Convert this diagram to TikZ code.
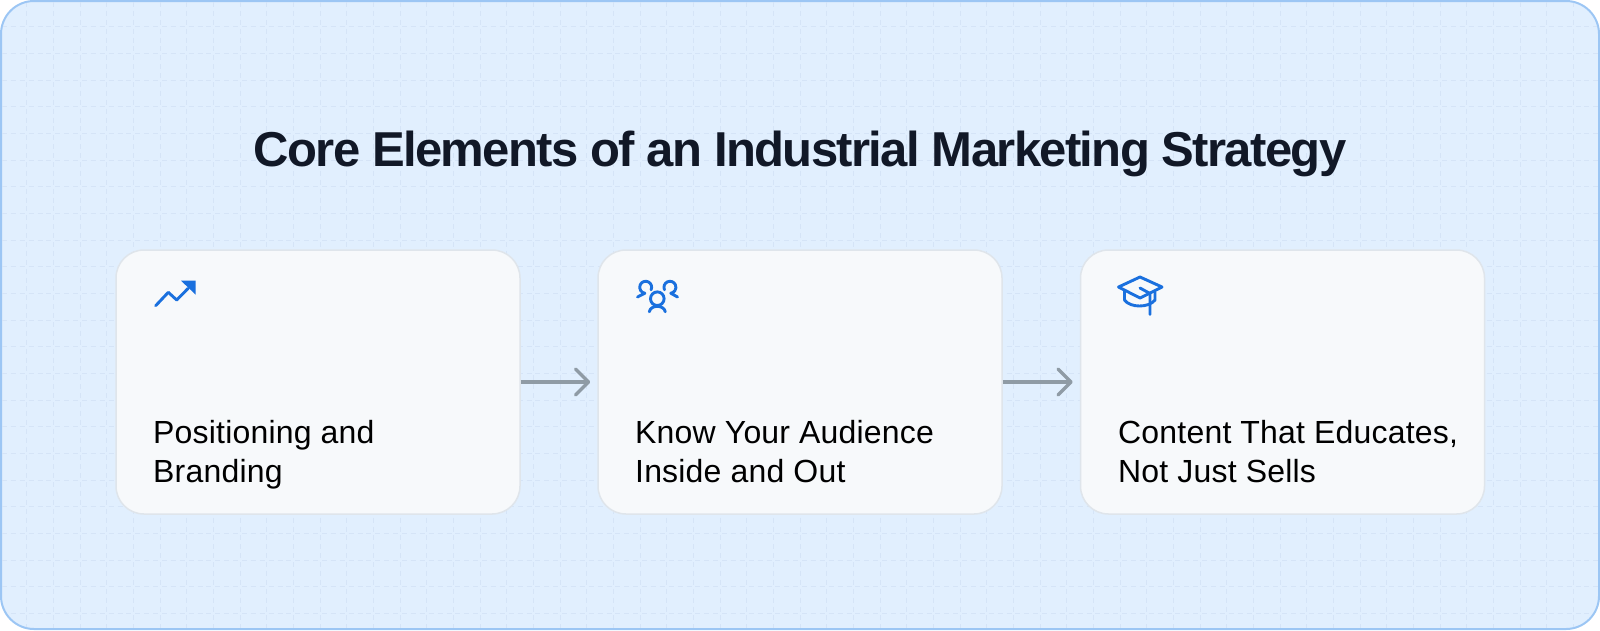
\documentclass[tikz,border=0pt]{standalone}
\usepackage{fontspec}
\setmainfont[LetterSpace=0.6]{Liberation Sans}
\newfontfamily\titlefont[LetterSpace=-3.4]{Liberation Sans Bold}
\usetikzlibrary{arrows.meta}
\definecolor{panelfill}{HTML}{E1EFFE}
\definecolor{paneledge}{HTML}{9CC6F4}
\definecolor{gridline}{HTML}{D5E4F7}
\definecolor{cardfill}{HTML}{F7F9FB}
\definecolor{cardedge}{HTML}{DFE5EB}
\definecolor{iconblue}{HTML}{1A70DE}
\definecolor{flowgray}{HTML}{8F9BA5}
\definecolor{titleink}{HTML}{111827}
\tikzset{
  panel/.style={draw=paneledge,fill=panelfill,line width=2pt,rounded corners=33pt,minimum width=1598pt,minimum height=628pt},
  gridrule/.style={gridline,line width=1pt,dash pattern=on 5pt off 3.89pt},
  card/.style={draw=cardedge,fill=cardfill,line width=1.5pt,rounded corners=28pt,minimum width=404pt,minimum height=264pt},
  label/.style={anchor=base west,align=left,inner sep=0pt,text=black,font=\fontsize{32}{39}\selectfont},
  flow/.style={flowgray,line width=3.4pt,-{Straight Barb[length=13pt,width=26pt,line width=3.4pt,round]},shorten >=7pt},
  icon/.style={iconblue,line width=2.9pt,line cap=round,line join=round}
}
\begin{document}
\begin{tikzpicture}[x=1pt,y=-1pt]

  \useasboundingbox (0,0) rectangle (1600,630);
  \node[panel] (panel) at (800,315) {};

  % dashed grid, cut off by the panel corners
  \begin{scope}
    \clip[rounded corners=32pt] (2,2) rectangle (1598,628);
    \foreach \k in {1,...,59}
      \draw[gridrule] ({26.67*\k},2) -- ({26.67*\k},628);
    \foreach \k in {1,...,23}
      \draw[gridrule] (2,{26.67*\k}) -- (1598,{26.67*\k});
  \end{scope}

  \node[anchor=base,inner sep=0pt,text=titleink,font=\titlefont\fontsize{49}{58}\selectfont] (title) at (800,166.5) {Core Elements of an Industrial Marketing Strategy};

  \node[card] (card1) at (318,382) {};
  \node[card] (card2) at (800,382) {};
  \node[card] (card3) at (1282.5,382) {};

  \draw[flow] (card1) -- (card2);
  \draw[flow] (card2) -- (card3);

  \node[label] (text1) at (153,482) {Positioning and\\Branding};
  \node[label] (text2) at (635,482) {Know Your Audience\\Inside and Out};
  \node[label] (text3) at (1118,482) {Content That Educates,\\Not Just Sells};

  % trend icon
  \draw[icon] (155.7,305.7) -- (168.3,292.3) -- (176.7,300) -- (188,288.5);
  \fill[iconblue] (181,280.7) -- (195.5,280.7) -- (195.5,294.5) -- cycle;

  % audience icon
  \begin{scope}[icon]
    \draw (657.3,298.7) circle (6.8);
    \draw (649.3,311.8) .. controls (650.5,304.5) and (664,304.5) .. (665.3,311.8);
    \draw (651.1,289.8) arc (25:-262:6) -- (637.5,297);
    \draw (664.5,289.8) arc (155:442:6) -- (677.5,297);
  \end{scope}

  % graduation cap icon
  \begin{scope}[icon]
    \draw (1118.5,287) -- (1140,277) -- (1162,287) -- (1140,298) -- cycle;
    \draw (1124.5,291) -- (1124.5,300) .. controls (1130,308) and (1149,308) .. (1155,300) -- (1155,292);
    \draw (1140,288) -- (1150,293.5) -- (1150,314.5);
  \end{scope}

\end{tikzpicture}
\end{document}
